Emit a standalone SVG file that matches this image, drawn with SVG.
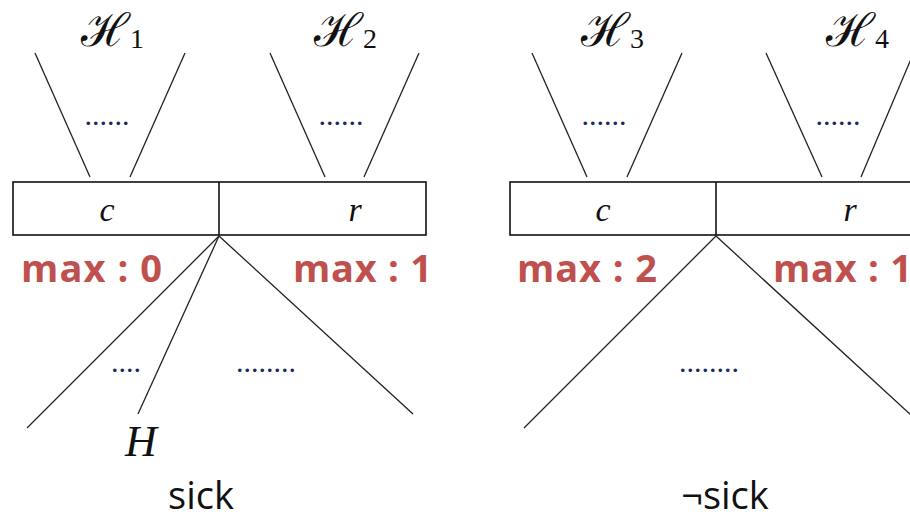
<svg xmlns="http://www.w3.org/2000/svg" width="910" height="514" viewBox="0 0 910 514">
<style>
.ln{stroke:#222;stroke-width:1.3;fill:none}
.box{stroke:#111;stroke-width:1.6;fill:#fff}
.cal{font-family:"DejaVu Serif",serif;font-size:46px;fill:#111}
.sub{font-family:"Liberation Serif",serif;font-size:28px}
.var{font-family:"Liberation Serif",serif;font-style:italic;font-size:34px;fill:#111;text-anchor:middle}
.dots{font-family:"Liberation Serif",serif;font-size:30px;fill:#1a2a5a;text-anchor:middle}
.max{font-family:"Open Sans","Liberation Sans",sans-serif;font-weight:bold;font-size:38px;fill:#c0504d}
.lbl{font-family:"Open Sans","Liberation Sans",sans-serif;font-size:38px;fill:#111;text-anchor:middle}
</style>
<rect width="910" height="514" fill="#fff"/>
<g id="connectors">
<line class="ln" x1="35" y1="53" x2="90" y2="177"/>
<line class="ln" x1="185" y1="53" x2="130" y2="177"/>
<line class="ln" x1="270" y1="53" x2="325" y2="177"/>
<line class="ln" x1="419" y1="53" x2="364" y2="177"/>
<line class="ln" x1="532" y1="53" x2="587" y2="177"/>
<line class="ln" x1="682" y1="53" x2="627" y2="177"/>
<line class="ln" x1="766" y1="53" x2="822" y2="177"/>
<line class="ln" x1="914" y1="52" x2="861" y2="177"/>
<line class="ln" x1="219" y1="236" x2="27" y2="428"/>
<line class="ln" x1="219" y1="236" x2="138" y2="414"/>
<line class="ln" x1="219" y1="236" x2="413" y2="414"/>
<line class="ln" x1="716" y1="236" x2="524" y2="428"/>
<line class="ln" x1="716" y1="236" x2="912" y2="416"/>
</g>
<g id="tree-sick">
<g id="H1"><text class="cal" x="81" y="46">ℋ<tspan class="sub" dy="2">1</tspan></text><text class="dots" x="107" y="125">......</text></g>
<g id="H2"><text class="cal" x="314" y="46">ℋ<tspan class="sub" dy="2">2</tspan></text><text class="dots" x="341" y="125">......</text></g>
<g id="box1">
<rect class="box" x="13" y="182" width="413" height="53"/>
<line class="box" x1="219" y1="182" x2="219" y2="235"/>
<text class="var" x="107" y="221">c</text>
<text class="var" x="355" y="221">r</text>
</g>
<text class="max" x="21" y="282" textLength="141">max : 0</text>
<text class="max" x="293" y="282" textLength="139">max : 1</text>
<text class="dots" x="126" y="372">....</text>
<text class="dots" x="266" y="372">........</text>
<text class="var" x="141" y="456" style="font-size:44px">H</text>
<text class="lbl" x="201" y="509">sick</text>
</g>
<g id="tree-notsick">
<g id="H3"><text class="cal" x="581" y="46">ℋ<tspan class="sub" dy="2">3</tspan></text><text class="dots" x="604" y="125">......</text></g>
<g id="H4"><text class="cal" x="826" y="46">ℋ<tspan class="sub" dy="2">4</tspan></text><text class="dots" x="838" y="125">......</text></g>
<g id="box2">
<rect class="box" x="510" y="182" width="420" height="53"/>
<line class="box" x1="716" y1="182" x2="716" y2="235"/>
<text class="var" x="603" y="221">c</text>
<text class="var" x="850" y="221">r</text>
</g>
<text class="max" x="517" y="282" textLength="140">max : 2</text>
<text class="max" x="773" y="282" textLength="139">max : 1</text>
<text class="dots" x="709" y="372">........</text>
<text class="lbl" x="725" y="509">¬sick</text>
</g>
</svg>
